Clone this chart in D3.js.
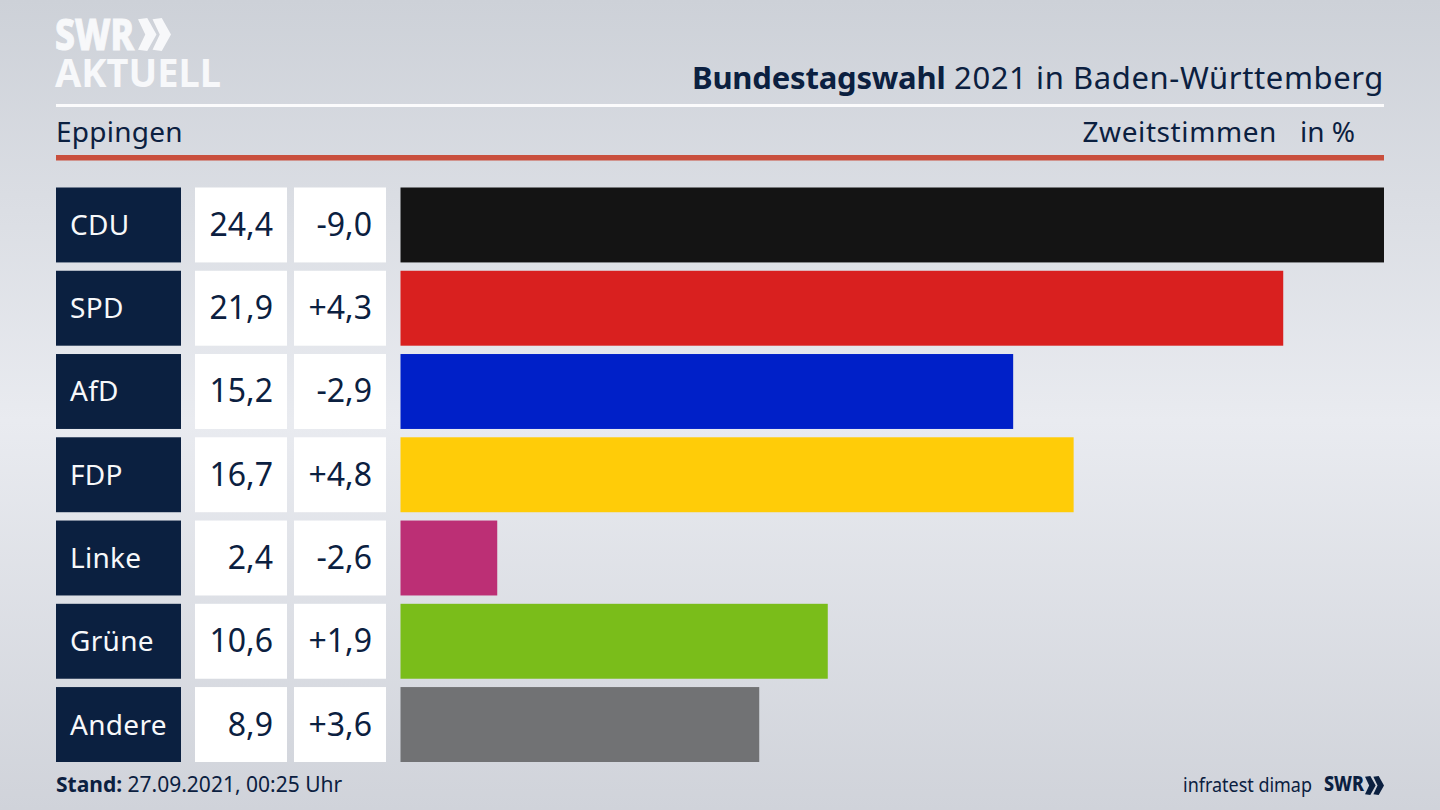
<!DOCTYPE html>
<html>
<head>
<meta charset="utf-8">
<script src="https://cdn.jsdelivr.net/npm/d3@7"></script>
<style>
  html, body { margin: 0; padding: 0; background: #d5d8de; }
  svg { display: block; }
  text { font-family: "Noto Sans", sans-serif; }
</style>
</head>
<body>
<div id="chart"></div>
<script>
// Data
const parties = ["CDU", "SPD", "AfD", "FDP", "Linke", "Grüne", "Andere"];
const shares = [24.4, 21.9, 15.2, 16.7, 2.4, 10.6, 8.9];
const changes = [-9.0, 4.3, -2.9, 4.8, -2.6, 1.9, 3.6];
const barColors = ["#141414", "#d9201f", "#0020c8", "#ffcc08", "#bc2f75", "#7abd1a", "#717274"];

const w = 1440;
const h = 810;
const navy = "#0b2040";

const fmtComma = d => d.toFixed(1).replace(".", ",");
const fmtChange = d => (d > 0 ? "+" : "-") + fmtComma(Math.abs(d));

const svg = d3.select("#chart")
  .append("svg")
  .attr("width", w)
  .attr("height", h)
  .attr("viewBox", "0 0 " + w + " " + h);

// Background, lighter through the middle
const defs = svg.append("defs");
const grad = defs.append("linearGradient")
  .attr("id", "bg")
  .attr("x1", 0).attr("x2", 0).attr("y1", 0).attr("y2", 1);
grad.append("stop").attr("offset", "0%").attr("stop-color", "#cdd1d8");
grad.append("stop").attr("offset", "52%").attr("stop-color", "#e9ebf0");
grad.append("stop").attr("offset", "100%").attr("stop-color", "#d0d3da");

svg.append("rect")
  .attr("width", w)
  .attr("height", h)
  .attr("fill", "url(#bg)");

// Chevrons of the SWR logo
const chevrons = (g, x, y, size, color) => {
  [0.44, 0].forEach(k => {
    const x0 = x + k * size;
    g.append("path")
      .attr("d", d3.line()([
        [x0, y + size * 0.04], [x0 + size * 0.28, y], [x0 + size * 0.56, y + size / 2],
        [x0 + size * 0.28, y + size], [x0, y + size * 0.96], [x0 + size * 0.22, y + size / 2]
      ]) + "Z")
      .attr("fill", color);
  });
};

// Logo top left
svg.append("text")
  .attr("x", 55).attr("y", 50)
  .attr("font-size", 43).attr("font-weight", 800)
  .attr("textLength", 79).attr("lengthAdjust", "spacingAndGlyphs")
  .attr("fill", "#f7f8fa")
  .attr("stroke", "#f7f8fa").attr("stroke-width", 1)
  .text("SWR");
chevrons(svg, 138, 18, 33, "#f7f8fa");
svg.append("text")
  .attr("x", 55).attr("y", 87)
  .attr("font-size", 40).attr("font-weight", 700)
  .attr("textLength", 166).attr("lengthAdjust", "spacingAndGlyphs")
  .attr("fill", "#f7f8fa")
  .text("AKTUELL");

// Title
const title = svg.append("text")
  .attr("x", 1384).attr("y", 89)
  .attr("text-anchor", "end")
  .attr("font-size", 31)
  .attr("fill", navy);
title.append("tspan").attr("font-weight", 700).attr("letter-spacing", -0.2).text("Bundestagswahl");
title.append("tspan").attr("letter-spacing", 0.6).text(" 2021 in Baden-Württemberg");

svg.append("rect")
  .attr("x", 56).attr("y", 104)
  .attr("width", 1328).attr("height", 3)
  .attr("fill", "#fbfbfc");

// Sub header
svg.append("text")
  .attr("x", 56).attr("y", 142)
  .attr("font-size", 28).attr("fill", navy)
  .attr("letter-spacing", 0.25)
  .text("Eppingen");
svg.append("text")
  .attr("x", 1277).attr("y", 142)
  .attr("text-anchor", "end")
  .attr("font-size", 28).attr("fill", navy)
  .attr("letter-spacing", 0.6)
  .text("Zweitstimmen");
svg.append("text")
  .attr("x", 1355).attr("y", 142)
  .attr("text-anchor", "end")
  .attr("font-size", 28).attr("fill", navy)
  .text("in %");

svg.append("rect")
  .attr("x", 56).attr("y", 155)
  .attr("width", 1328).attr("height", 5.5)
  .attr("fill", "#c94f3d");

// Scales
const y = d3.scaleBand()
  .domain(parties)
  .range([187.5, 762])
  .paddingInner(0.1);

const x = d3.scaleLinear()
  .domain([0, 24.4])
  .range([400.5, 1384]);

const rows = svg.selectAll("g.row")
  .data(parties)
  .enter()
  .append("g")
  .attr("class", "row")
  .attr("transform", d => "translate(0," + y(d) + ")");

const rowH = y.bandwidth();

// Party cell
rows.append("rect")
  .attr("x", 56).attr("width", 125).attr("height", rowH)
  .attr("fill", navy);
rows.append("text")
  .attr("x", 70).attr("y", rowH / 2 + 10)
  .attr("font-size", 28).attr("fill", "#f7f8fa")
  .attr("letter-spacing", 0.3)
  .text(d => d);

// Share cell
rows.append("rect")
  .attr("x", 195).attr("width", 92).attr("height", rowH)
  .attr("fill", "#fff");
rows.append("text")
  .attr("x", 273).attr("y", rowH / 2 + 11)
  .attr("text-anchor", "end")
  .attr("font-size", 32).attr("fill", navy)
  .text((d, i) => fmtComma(shares[i]));

// Change cell
rows.append("rect")
  .attr("x", 294).attr("width", 92).attr("height", rowH)
  .attr("fill", "#fff");
rows.append("text")
  .attr("x", 372).attr("y", rowH / 2 + 11)
  .attr("text-anchor", "end")
  .attr("font-size", 32).attr("fill", navy)
  .text((d, i) => fmtChange(changes[i]));

// Bars
rows.append("rect")
  .attr("x", x(0))
  .attr("width", (d, i) => x(shares[i]) - x(0))
  .attr("height", rowH)
  .attr("fill", (d, i) => barColors[i]);

// Footer
const stand = svg.append("text")
  .attr("x", 56).attr("y", 792)
  .attr("font-size", 21)
  .attr("fill", navy);
stand.append("tspan").attr("font-weight", 700).text("Stand:");
stand.append("tspan").text(" 27.09.2021, 00:25 Uhr");

svg.append("text")
  .attr("x", 1183).attr("y", 792)
  .attr("font-size", 20)
  .attr("textLength", 129).attr("lengthAdjust", "spacingAndGlyphs")
  .attr("fill", navy)
  .text("infratest dimap");
svg.append("text")
  .attr("x", 1324).attr("y", 791)
  .attr("font-size", 21).attr("font-weight", 800)
  .attr("textLength", 40).attr("lengthAdjust", "spacingAndGlyphs")
  .attr("fill", navy)
  .text("SWR");
chevrons(svg, 1365, 776, 19, navy);
</script>
</body>
</html>
